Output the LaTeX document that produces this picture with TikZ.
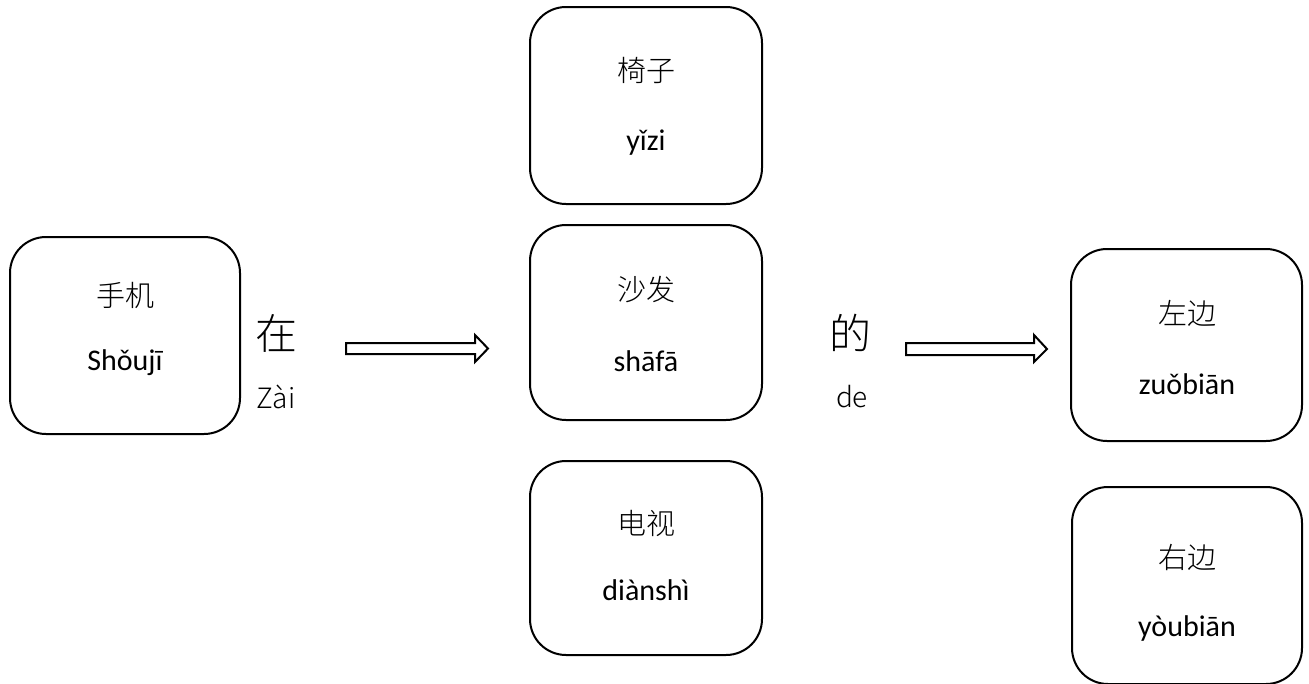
\documentclass[tikz,border=0pt]{standalone}
\usepackage{fontspec}
\newfontfamily\cjk{Noto Sans CJK SC Light}
\newfontfamily\py{Carlito}
\begin{document}
\begin{tikzpicture}[x=1pt,y=-1pt,
  box/.style={draw=black,line width=2pt,rounded corners=36pt,fill=white},
  zh/.style={font=\cjk\fontsize{29}{32}\selectfont,inner sep=0pt},
  pin/.style={font=\py\fontsize{30}{34}\selectfont,inner sep=0pt},
  big/.style={font=\cjk\fontsize{42}{46}\selectfont,inner sep=0pt},
  small/.style={font=\cjk\fontsize{28}{32}\selectfont,inner sep=0pt},
  fatarrow/.style={draw=black,line width=2pt,fill=white,line join=miter}]
\useasboundingbox (0,0) rectangle (1309,683);
\clip (0,0) rectangle (1309,683);
% boxes
\draw[box] (10,237) rectangle (240,434);
\node[zh] (t1) at (125,295) {手机};
\node[pin] (p1) at (125,363) {Shǒujī};

\draw[box] (530,7) rectangle (762,204);
\node[zh] (t2) at (646,70) {椅子};
\node[pin] (p2) at (646,143) {yǐzi};

\draw[box] (530,225) rectangle (762,420);
\node[zh] (t3) at (646,290) {沙发};
\node[pin] (p3) at (646,361) {shāfā};

\draw[box] (530,461) rectangle (762,655);
\node[zh] (t4) at (646,523) {电视};
\node[pin] (p4) at (646,590) {diànshì};

\draw[box] (1071,249) rectangle (1302,441);
\node[zh] (t5) at (1187,313) {左边};
\node[pin] (p5) at (1187,384) {zuǒbiān};

\draw[box] (1072,487) rectangle (1302,684);
\node[zh] (t6) at (1187,557) {右边};
\node[pin] (p6) at (1187,628) {yòubiān};

% connector words
\node[big] (zai) at (276,333) {在};
\node[small] (zaip) at (276,397) {Zài};
\node[big] (de) at (850,333) {的};
\node[small] (dep) at (852,397) {de};

% block arrows
\draw[fatarrow] (346,343) -- (475,343) -- (475,335) -- (488,348.5) -- (475,362) -- (475,354) -- (346,354) -- cycle;
\draw[fatarrow] (906,343) -- (1034,343) -- (1034,335) -- (1047,349) -- (1034,362) -- (1034,355) -- (906,355) -- cycle;
\end{tikzpicture}
\end{document}
